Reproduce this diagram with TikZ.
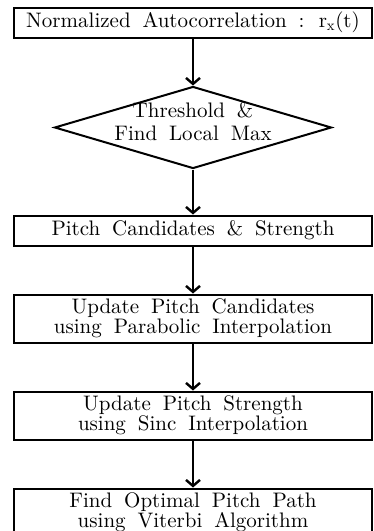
\documentclass[tikz,border=0pt]{standalone}
\usepackage{fontspec}
\setmainfont{lmroman10-regular.otf}[WordSpace=1.7]
\usepackage{tikz}
\usetikzlibrary{positioning}
\usetikzlibrary{arrows.meta,shapes.geometric}
\tikzset{edge/.style = {-{Straight Barb[length=6pt,width=14pt]}, line width=2.4pt}}

\begin{document}
\begin{tikzpicture}[node distance=47pt, main node/.style={rectangle,draw,line width=2pt,minimum width=358pt,inner sep=0pt,align=center,font=\fontsize{21}{20.5}\selectfont}, test node/.style={diamond,draw,line width=2pt,shape aspect=3.4,minimum width=277pt,minimum height=82pt,inner xsep=-30pt,inner ysep=0pt,text depth=12pt,align=center,font=\fontsize{21}{24}\selectfont}]
            \useasboundingbox (0,0) rectangle (374pt,-531pt);
            \node[main node, minimum height=30pt] (1) at (193pt,-22.5pt) {Normalized Autocorrelation : r$_{\mathrm{x}}$(t)};
            \node[test node] (2) [below=of 1] {Threshold \&\\[-1pt]Find Local Max};
            \node[main node, minimum height=30pt] (3) [below=45pt of 2] {Pitch Candidates \& Strength};
            \node[main node, minimum height=48pt] (4) [below=of 3] {Update Pitch Candidates\\using Parabolic Interpolation};
            \node[main node, minimum height=48pt] (5) [below=of 4] {Update Pitch Strength\\using Sinc Interpolation};
            \node[main node, minimum height=48pt] (6) [below=of 5] {Find Optimal Pitch Path\\using Viterbi Algorithm};

            \path (1) edge[edge] (2);
            \path (2) edge[edge] (3);
            \path (3) edge[edge] (4);
            \path (4) edge[edge] (5);
            \path (5) edge[edge] (6);

        \end{tikzpicture}
\end{document}
